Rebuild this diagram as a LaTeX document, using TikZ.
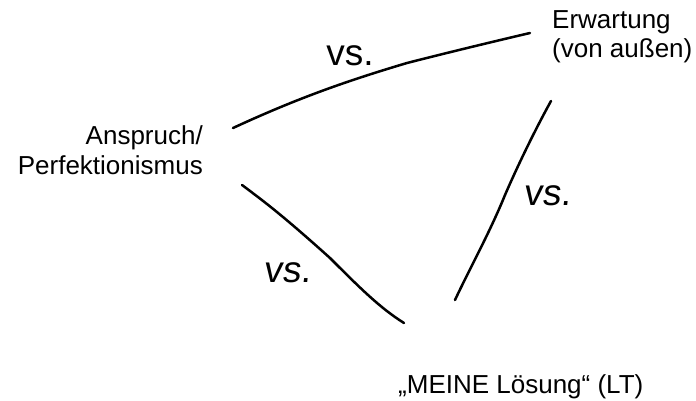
\documentclass[tikz,border=0pt]{standalone}
\usepackage{fontspec}
\setmainfont{Liberation Sans}
\begin{document}
\begin{tikzpicture}[x=1pt,y=-1pt,
  lbl/.style={inner sep=0pt, font=\fontsize{26}{29}\selectfont},
  vslbl/.style={inner sep=0pt, anchor=base, font=\fontsize{37}{37}\selectfont},
  stroke/.style={line width=2.5pt, line cap=round, line join=round}]
\useasboundingbox[fill=white] (0,0) rectangle (696,401);
% labels (base anchor = baseline of the last line)
\node[lbl, align=right, anchor=base east] (ans) at (203,174) {Anspruch/\\Perfektionismus};
\node[lbl, align=left, anchor=base west] (erw) at (552,58) {Erwartung\\(von außen)};
\node[lbl, anchor=base west] (mein) at (398,393) {„MEINE Lösung“ (LT)};
% connector end points
\coordinate (a1) at (233,128);
\coordinate (e1) at (530,33);
\coordinate (a2) at (242,185);
\coordinate (m1) at (404,323);
\coordinate (e2) at (551,101);
\coordinate (m2) at (455,300);
% connectors (hand drawn)
\draw[stroke] (a1) .. controls (300,97) and (350,80) .. (407,63) .. controls (450,52) and (500,40) .. (e1);
\draw[stroke] (a2) .. controls (262,200) and (280,213) .. (330,258) .. controls (360,288) and (380,308) .. (m1);
\draw[stroke] (e2) .. controls (535,130) and (518,165) .. (505,195) .. controls (490,232) and (470,268) .. (m2);
% vs. labels
\node[vslbl] (vs1) at (350,66) {vs.};
\node[vslbl, xslant=0.12] (vs2) at (287,282) {vs.};
\node[vslbl, xslant=0.12] (vs3) at (547,205) {vs.};
\end{tikzpicture}
\end{document}
